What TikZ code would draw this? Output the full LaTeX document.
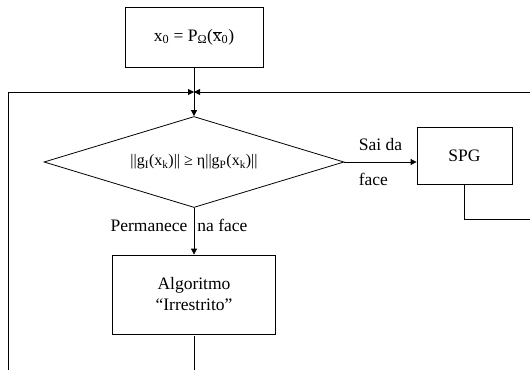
\documentclass[tikz,border=0pt]{standalone}
\usepackage{fontspec}
\setmainfont{Liberation Serif}
\usetikzlibrary{shapes.geometric,arrows.meta,calc}

\tikzset{
  block/.style={draw, line width=0.8pt, inner sep=0pt, align=center},
  decision/.style={draw, diamond, aspect=3.3, line width=0.8pt, inner sep=0pt,
    minimum width=300pt, minimum height=91pt, font=\fontsize{16}{19}\selectfont},
  flow/.style={line width=0.8pt, -{Triangle[length=6pt,width=6pt]}},
  link/.style={line width=0.8pt}
}

\begin{document}
\begin{tikzpicture}[x=1pt, y=-1pt, font=\fontsize{17.5}{21}\selectfont]
    \useasboundingbox (0,0) rectangle (530,370);

    % Start
    \node [block, minimum width=138pt, minimum height=60pt] (start) at (194, 37)
      {x\textsubscript{0} = P\textsubscript{Ω}($\overline{\mbox{x}}$\textsubscript{0})};
    \coordinate (merge) at (194, 92);

    % Test
    \node [decision] (cond) at (194, 162)
      {||g\textsubscript{I}(x\textsubscript{k})|| ≥ η||g\textsubscript{P}(x\textsubscript{k})||};

    % Steps
    \node [block, minimum width=95pt, minimum height=57pt] (spg) at (464.5, 155.5) {SPG};
    \node [block, minimum width=163pt, minimum height=79pt] (alg) at (194, 294.5)
      {Algoritmo\\“Irrestrito”};

    % Loop ends
    \coordinate (leftdown) at (8, 370);
    \coordinate (leftup) at (8, 92);
    \coordinate (spgout) at (530, 219);
    \coordinate (spgback) at (530, 92);
    \coordinate (algout) at (194, 370);

    % Arrows
    \draw [flow] (start) -- (cond);
    \draw [flow] (cond.east) -- node [align=left] {Sai da\\[14pt]face} (cond.east -| spg.west);
    \draw [flow] (cond) -- node [xshift=-15pt, yshift=6pt] {Permanece\hspace{10pt}na face} (alg);
    \draw [link] (spg.south) |- (spgout);
    \draw [flow] (spgback) -- (merge);
    \draw [flow] (leftdown) -- (leftup) -- (merge);
    \draw [link] ([yshift=-2pt]alg.south) -- (algout);
\end{tikzpicture}
\end{document}
